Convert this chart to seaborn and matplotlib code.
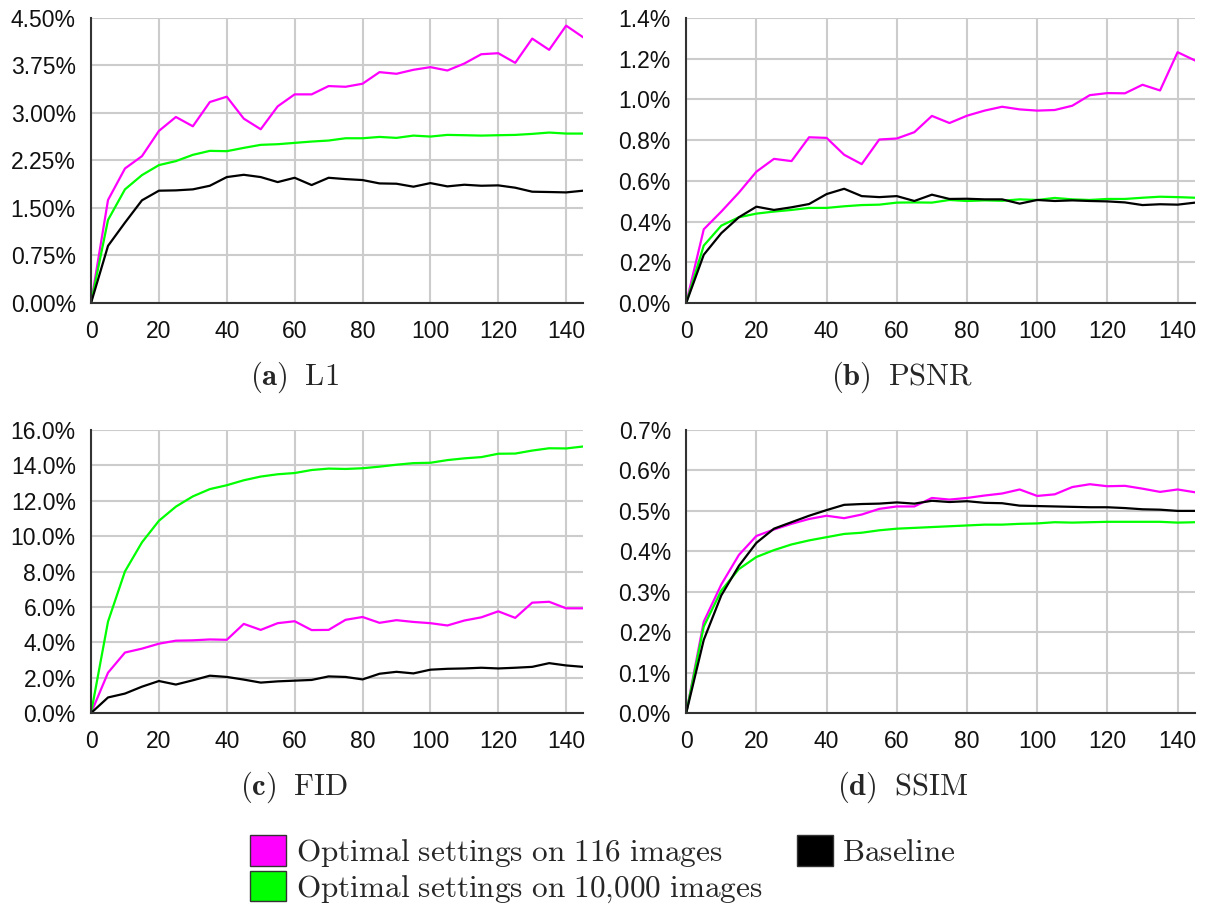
import numpy as np
import pandas as pd
import matplotlib
matplotlib.use("Agg")
import matplotlib.pyplot as plt
from matplotlib.patches import Patch
from matplotlib.ticker import FuncFormatter, MultipleLocator
import seaborn as sns

# Training steps (x axis)
steps = list(range(0, 150, 5))

series_names = ["Optimal settings on 116 images",
                "Optimal settings on 10,000 images",
                "Baseline"]
colors = ["#ff00ff", "#00ff00", "#000000"]

# Relative improvement in percent, one list per metric and series
l1_116 = [0, 1.626, 2.124, 2.318, 2.717, 2.937, 2.790, 3.173, 3.257, 2.911,
          2.743, 3.105, 3.294, 3.294, 3.425, 3.414, 3.462, 3.645, 3.619, 3.682,
          3.724, 3.671, 3.781, 3.928, 3.944, 3.792, 4.175, 3.997, 4.379, 4.196]
l1_10k = [0, 1.311, 1.794, 2.019, 2.177, 2.240, 2.339, 2.402, 2.397, 2.449,
          2.497, 2.507, 2.528, 2.549, 2.565, 2.601, 2.601, 2.622, 2.607, 2.643,
          2.628, 2.654, 2.649, 2.643, 2.649, 2.654, 2.670, 2.691, 2.675, 2.675]
l1_base = [0, 0.902, 1.269, 1.621, 1.773, 1.778, 1.794, 1.851, 1.988, 2.024,
           1.988, 1.909, 1.977, 1.862, 1.977, 1.956, 1.941, 1.888, 1.883, 1.836,
           1.893, 1.841, 1.867, 1.851, 1.857, 1.820, 1.757, 1.752, 1.746, 1.773]

psnr_116 = [0, 0.362, 0.449, 0.542, 0.645, 0.708, 0.697, 0.814, 0.811, 0.728,
            0.682, 0.803, 0.808, 0.839, 0.919, 0.884, 0.920, 0.945, 0.964, 0.951,
            0.945, 0.948, 0.969, 1.021, 1.031, 1.030, 1.072, 1.044, 1.232, 1.191]
psnr_10k = [0, 0.282, 0.380, 0.421, 0.439, 0.449, 0.457, 0.467, 0.467, 0.475,
            0.481, 0.483, 0.493, 0.494, 0.493, 0.506, 0.501, 0.504, 0.502, 0.509,
            0.506, 0.516, 0.509, 0.506, 0.511, 0.511, 0.517, 0.522, 0.520, 0.517]
psnr_base = [0, 0.237, 0.343, 0.421, 0.473, 0.457, 0.470, 0.486, 0.535, 0.561,
             0.525, 0.520, 0.525, 0.501, 0.532, 0.511, 0.512, 0.509, 0.509, 0.488,
             0.506, 0.501, 0.504, 0.501, 0.499, 0.494, 0.481, 0.485, 0.483, 0.493]

fid_116 = [0, 2.28, 3.42, 3.64, 3.92, 4.09, 4.11, 4.16, 4.14, 5.04,
           4.70, 5.08, 5.19, 4.69, 4.70, 5.27, 5.43, 5.10, 5.25, 5.15,
           5.08, 4.95, 5.23, 5.41, 5.75, 5.38, 6.24, 6.29, 5.92, 5.92]
fid_10k = [0, 5.17, 8.01, 9.65, 10.87, 11.67, 12.25, 12.66, 12.88, 13.16,
           13.37, 13.50, 13.57, 13.74, 13.82, 13.80, 13.84, 13.93, 14.04, 14.13,
           14.15, 14.30, 14.40, 14.47, 14.66, 14.67, 14.84, 14.97, 14.96, 15.07]
fid_base = [0, 0.88, 1.10, 1.49, 1.81, 1.61, 1.85, 2.11, 2.04, 1.89,
            1.72, 1.79, 1.83, 1.87, 2.07, 2.04, 1.90, 2.22, 2.33, 2.24,
            2.45, 2.50, 2.52, 2.56, 2.52, 2.56, 2.61, 2.82, 2.69, 2.61]

ssim_116 = [0, 0.226, 0.318, 0.391, 0.438, 0.454, 0.468, 0.480, 0.488, 0.482,
            0.491, 0.505, 0.511, 0.511, 0.532, 0.528, 0.532, 0.538, 0.543, 0.553,
            0.537, 0.541, 0.559, 0.566, 0.561, 0.562, 0.555, 0.547, 0.553, 0.546]
ssim_10k = [0, 0.214, 0.303, 0.356, 0.386, 0.403, 0.417, 0.427, 0.435, 0.443,
            0.446, 0.452, 0.456, 0.458, 0.460, 0.462, 0.464, 0.466, 0.466, 0.468,
            0.469, 0.472, 0.471, 0.472, 0.473, 0.473, 0.473, 0.473, 0.471, 0.472]
ssim_base = [0, 0.181, 0.291, 0.364, 0.421, 0.456, 0.472, 0.488, 0.502, 0.515,
             0.517, 0.518, 0.521, 0.518, 0.525, 0.522, 0.524, 0.520, 0.519, 0.513,
             0.512, 0.511, 0.510, 0.509, 0.509, 0.507, 0.504, 0.503, 0.500, 0.500]

panels = [
    ("(a)", "L1", [l1_116, l1_10k, l1_base], 4.5, 0.75, 2),
    ("(b)", "PSNR", [psnr_116, psnr_10k, psnr_base], 1.4, 0.2, 1),
    ("(c)", "FID", [fid_116, fid_10k, fid_base], 16.0, 2.0, 1),
    ("(d)", "SSIM", [ssim_116, ssim_10k, ssim_base], 0.7, 0.1, 1),
]

sns.set_theme(style="whitegrid")
plt.rcParams["font.family"] = ["Liberation Sans", "DejaVu Sans"]
plt.rcParams["mathtext.fontset"] = "cm"

fig = plt.figure(figsize=(12.06, 9.09), dpi=100)

# axes rectangles in figure fractions
rects = [
    (0.0755, 0.6667, 0.408, 0.3135),
    (0.569, 0.6667, 0.422, 0.3135),
    (0.0755, 0.2156, 0.408, 0.3113),
    (0.569, 0.2156, 0.422, 0.3113),
]
caption_pos = [(0.244, 0.585), (0.748, 0.585), (0.244, 0.134), (0.748, 0.134)]

for (tag, name, vals, ymax, ystep, dec), rect, cpos in zip(panels, rects, caption_pos):
    ax = fig.add_axes(rect)
    frames = []
    for sname, v in zip(series_names, vals):
        frames.append(pd.DataFrame({"step": steps, "value": v, "series": sname}))
    df = pd.concat(frames, ignore_index=True)
    sns.lineplot(data=df, x="step", y="value", hue="series",
                 hue_order=series_names, palette=colors, linewidth=1.6,
                 legend=False, ax=ax)
    ax.set_xlim(0, 145)
    ax.set_ylim(0, ymax)
    ax.xaxis.set_major_locator(MultipleLocator(20))
    ax.yaxis.set_major_locator(MultipleLocator(ystep))
    ax.yaxis.set_major_formatter(FuncFormatter(lambda v, p, d=dec: f"{v:.{d}f}%"))
    ax.set_xlabel("")
    ax.set_ylabel("")
    ax.grid(True, color="#cccccc", linewidth=1.5)
    ax.set_axisbelow(True)
    ax.set_facecolor("white")
    for side in ("top", "right"):
        ax.spines[side].set_visible(False)
    for side in ("left", "bottom"):
        ax.spines[side].set_color("#333333")
        ax.spines[side].set_linewidth(1.5)
    ax.tick_params(axis="both", length=0, labelsize=16.5, colors="#111111")
    ax.tick_params(axis="y", pad=11)
    ax.tick_params(axis="x", pad=12)
    for lab in ax.get_xticklabels() + ax.get_yticklabels():
        lab.set_clip_on(False)
    fig.text(cpos[0], cpos[1], r"$\mathbf{" + tag + r"}\;\ \mathrm{" + name + r"}$",
             ha="center", va="center", fontsize=22)

handles = [Patch(facecolor=c, edgecolor="#333333", linewidth=1.0) for c in colors]
labels = [r"$\mathrm{" + s.replace(" ", r"\ ").replace(",", "{,}") + r"}$" for s in series_names]
leg = fig.legend(handles, labels,
                 loc="center", bbox_to_anchor=(0.5, 0.043), ncol=2, frameon=False,
                 fontsize=22.5, handlelength=1.15, handleheight=1.12,
                 handletextpad=0.3, columnspacing=1.1, labelspacing=0.05,
                 borderpad=0.0)

fig.savefig("out.png", dpi=100, facecolor="white")
